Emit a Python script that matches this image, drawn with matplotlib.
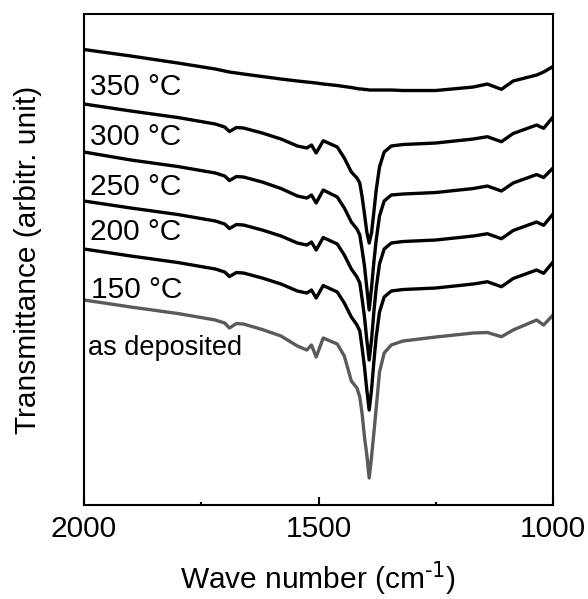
import matplotlib
matplotlib.use("Agg")
import matplotlib.pyplot as plt
from matplotlib.ticker import MultipleLocator

# wavenumber grid (cm-1) shared by all spectra
WAVENUMBER = [2000, 1900, 1800, 1720, 1700, 1690, 1675, 1660, 1620, 1580, 1545, 1525, 1515, 1505,
              1490, 1460, 1445, 1430, 1418, 1412, 1407, 1402, 1397, 1392, 1387, 1382, 1377, 1370,
              1360, 1345, 1320, 1250, 1170, 1140, 1110, 1085, 1035, 1020, 1000]

# offset transmittance, arbitrary units
T_350 = [450.5, 444, 437, 431, 429, 428, 427, 426, 423.5, 421, 419, 418, 417.5, 417,
         416, 414.5, 413.5, 412.5, 411.5, 411, 411, 410.5, 410.5, 410, 410, 410, 410, 410,
         410, 410, 409.5, 409.5, 413, 416, 410.7, 419, 425, 428, 433.5]
T_300 = [396, 389, 382.5, 376, 373, 368.5, 372.5, 372, 367, 361, 354, 352, 355, 347,
         359.3, 353, 342, 328, 322, 317, 303, 286, 268, 257, 267, 288, 310, 333,
         348, 354, 355.5, 357, 361, 363.3, 358.3, 366.5, 375, 371.7, 383]
T_250 = [348, 340, 333.5, 327, 324, 319.5, 323.5, 323, 318, 311.5, 304, 302, 305, 297,
         310, 303, 292, 278, 271, 265, 250, 234, 212, 190, 212, 238, 260, 284,
         299, 305, 306, 307.5, 311.5, 314, 309, 317, 325.5, 322.5, 332]
T_200 = [299, 292, 285.5, 279, 276, 271.5, 275.5, 275, 270, 264, 257, 255, 258, 250,
         262.5, 256, 245, 231, 223, 217, 201, 183, 160, 140, 160, 188, 212, 236,
         251, 257, 258.5, 260, 264, 266.3, 261.3, 269.5, 278, 274.7, 286]
T_150 = [251, 244, 237.5, 231, 228, 223.5, 227.5, 227, 222, 216, 209, 207, 210, 202,
         214.5, 208, 197, 183, 175, 169, 152, 133, 110, 90, 110, 138, 163, 188,
         203, 209, 210.5, 212, 216, 218.3, 213.3, 221.5, 230, 226.7, 238]
T_AS_DEP = [200, 193, 186.5, 180, 177, 172, 176.5, 176, 170.5, 164, 154, 150, 155, 143,
            162, 156, 144, 119, 112, 103, 86, 63, 45, 22, 43, 67, 92, 128,
            147, 155, 159, 163, 167, 167.5, 163.3, 170, 180, 175, 185]

SERIES = [T_350, T_300, T_250, T_200, T_150, T_AS_DEP]
LABELS = ["350 °C", "300 °C", "250 °C", "200 °C", "150 °C", "as deposited"]
COLORS = ["#000000"] * 5 + ["#5a5a5a"]
# label anchor (wavenumber, transmittance) at text baseline
LABEL_X = [1987, 1987, 1987, 1987, 1985, 1991]
LABEL_Y = [405, 355, 305, 260, 202, 145]

plt.rcParams.update({
    "font.family": ["Liberation Sans", "DejaVu Sans"],
    "mathtext.default": "regular",
    "axes.linewidth": 1.5,
})

fig = plt.figure(figsize=(5.88, 5.99), dpi=100)
ax = fig.add_axes([0.1429, 0.1569, 0.7976, 0.8197])

for vals, c in zip(SERIES, COLORS):
    ax.plot(WAVENUMBER, vals, color=c, lw=2.4, solid_joinstyle="round", solid_capstyle="round")

for lab, lx, ly in zip(LABELS, LABEL_X, LABEL_Y):
    ax.text(lx, ly, lab, fontsize=21.5 if "°" in lab else 19.5, ha="left", va="baseline")

ax.set_xlim(2000, 1000)
ax.set_ylim(-5, 486)
ax.set_yticks([])
ax.xaxis.set_major_locator(MultipleLocator(500))
ax.xaxis.set_minor_locator(MultipleLocator(250))
ax.tick_params(axis="x", which="major", direction="in", length=5.5, width=1.5,
               labelsize=21.5, pad=7, top=False)
ax.tick_params(axis="x", which="minor", direction="in", length=2.5, width=1.5, top=False)
ax.set_xlabel(r"Wave number (cm$^{\text{-1}}$)", fontsize=21.5, labelpad=12)
ax.set_ylabel("Transmittance (arbitr. unit)", fontsize=21.5, labelpad=30)

fig.savefig("out.png", dpi=100)
